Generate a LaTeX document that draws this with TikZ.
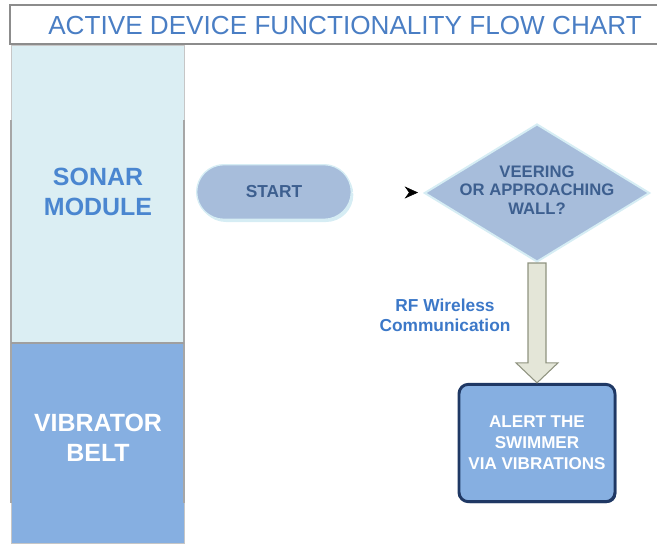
\documentclass[tikz,border=0pt]{standalone}
\usepackage{fontspec}
\setmainfont{Liberation Sans}
\usepackage{tikz}
\usetikzlibrary{arrows.meta,positioning,calc,shapes.geometric,shadows}
\usepackage{xcolor}
\definecolor{titleblue}{HTML}{4A7EC4}
\definecolor{lanecyan}{HTML}{DBEEF3}
\definecolor{laneblue}{HTML}{86AFE1}
\definecolor{sonarblue}{HTML}{4A86D0}
\definecolor{shapefill}{HTML}{A7BDDB}
\definecolor{shapetext}{HTML}{3D5F8F}
\definecolor{halo}{HTML}{D6EDF4}
\definecolor{navy}{HTML}{1F3864}
\definecolor{blockfill}{HTML}{E4E6D8}
\definecolor{blockline}{HTML}{8F9380}
\definecolor{rfblue}{HTML}{3C78C8}
\definecolor{framegray}{HTML}{8C8C8C}

\begin{document}
\begin{tikzpicture}[x=0.75pt, y=-0.75pt, >=Stealth,
   lanelabel/.style={align=center, font=\fontsize{18.7}{22.5}\selectfont\bfseries},
   term/.style={draw=halo, line width=1pt, fill=shapefill, rounded corners=20.5pt,
                minimum width=116pt, minimum height=41pt, text=shapetext,
                drop shadow={shadow xshift=1.5pt, shadow yshift=-2pt, fill=halo, opacity=1},
                font=\fontsize{13}{15}\selectfont\bfseries},
   decision/.style={diamond, draw=halo, line width=1.5pt, fill=shapefill,
                    minimum width=169pt, minimum height=103.5pt, inner sep=0pt},
   dectext/.style={align=center, text=shapetext, font=\fontsize{12.5}{14}\selectfont\bfseries},
   alertbox/.style={draw=navy, line width=2.2pt, fill=laneblue, rounded corners=7pt,
                    minimum width=117pt, minimum height=88pt, align=center, text=white,
                    drop shadow={shadow xshift=1pt, shadow yshift=-1pt, fill=navy, opacity=1},
                    font=\fontsize{12.8}{15.75}\selectfont\bfseries},
   blockarrow/.style={draw=blockline, fill=blockfill, line width=0.8pt, line join=miter}]
  \useasboundingbox (0,0) rectangle (657,543);

  % heading
  \draw[framegray, line width=1.5pt] (657,5) -- (10,5) -- (10,44) -- (657,44);
  \node[text=titleblue, font=\fontsize{19.6}{22}\selectfont] (title) at (345,26)
       {ACTIVE DEVICE FUNCTIONALITY FLOW CHART};

  % swim lanes
  \path[fill=lanecyan, draw=gray!45] (11,45) rectangle (184,343);
  \path[fill=laneblue, draw=gray!45] (11,343) rectangle (184,543);
  \draw[gray!70, line width=1pt] (11,120) -- (11,503) (184,120) -- (184,503);
  \draw[gray!75, line width=1pt] (11,343) -- (184,343);
  \node[lanelabel, text=sonarblue] (sonar) at (98,192) {SONAR\\MODULE};
  \node[lanelabel, text=white] (belt) at (98,438) {VIBRATOR\\BELT};

  % flow
  \node[term] (start) at (274,192) {START};
  \node[decision] (dec) at (537,193) {};
  \node[dectext] (dectxt) at (dec.center) [yshift=2.2pt] {VEERING\\OR APPROACHING\\WALL?};
  \node[alertbox] (alert) at (537,443) {ALERT THE\\SWIMMER\\VIA VIBRATIONS};

  \draw[white, -{Stealth[black, length=10pt, width=9pt]}, shorten >=4.5pt] (start) -- (dec);

  \draw[blockarrow] ($(dec.south)+(-9,0)$) -- ($(alert.north)+(-9,-20)$)
        -- ($(alert.north)+(-21,-20)$) -- (alert.north) -- ($(alert.north)+(21,-20)$)
        -- ($(alert.north)+(9,-20)$) -- ($(dec.south)+(9,0)$) -- cycle;
  \node[align=center, text=rfblue, font=\fontsize{13}{15}\selectfont\bfseries] (rf) at (445,315)
       {RF Wireless\\Communication};
\end{tikzpicture}
\end{document}
